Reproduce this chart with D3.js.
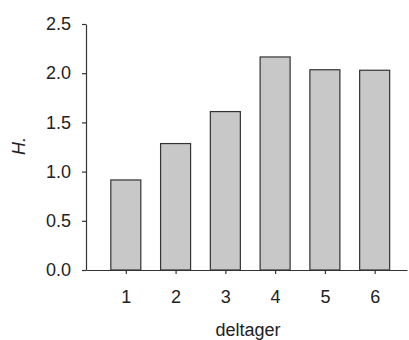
<!DOCTYPE html>
<html>
<head>
<meta charset="UTF-8">
<script src="https://d3js.org/d3.v7.min.js"></script>
<style>
body { margin: 0; background: #fff; }
text { font-family: "Liberation Sans", Arial, sans-serif; fill: #222; }
</style>
</head>
<body>
<svg width="409" height="340"></svg>
<script>
// data
var deltager = [1, 2, 3, 4, 5, 6];
var hValues = [0.915, 1.285, 1.61, 2.165, 2.035, 2.03];
var yTicks = [0, 0.5, 1.0, 1.5, 2.0, 2.5];

var svg = d3.select("svg");

var xScale = d3.scaleLinear().domain([0.2, 6.65]).range([86, 407]);
var yScale = d3.scaleLinear().domain([0, 2.5]).range([270, 24]);
var barW = 30;

// bars
svg.append("g").selectAll("rect").data(deltager)
  .enter().append("rect")
  .attr("x", function(d) { return xScale(d) - barW / 2; })
  .attr("y", function(d, i) { return yScale(hValues[i]); })
  .attr("width", barW)
  .attr("height", function(d, i) { return yScale(0) - yScale(hValues[i]); })
  .style("fill", "#c8c8c9")
  .style("stroke", "#333")
  .style("stroke-width", 1.2);

// y axis
var y_axis = d3.axisLeft(yScale).tickValues(yTicks).tickFormat(d3.format(".1f"))
  .tickSizeInner(4).tickSizeOuter(0).tickPadding(11);
var gy = svg.append("g").attr("transform", "translate(86,0)").call(y_axis);
gy.selectAll("text").style("font-size", "18px");

// x axis
var x_axis = d3.axisBottom(xScale).tickValues(deltager).tickFormat(d3.format("d"))
  .tickSizeInner(4).tickSizeOuter(0).tickPadding(16);
var gx = svg.append("g").attr("transform", "translate(0,270)").call(x_axis);
gx.selectAll("text").style("font-size", "18px");

svg.selectAll(".domain, .tick line").style("stroke", "#333").style("stroke-width", 1.2);

// axis titles
svg.append("text")
  .attr("x", 248).attr("y", 336)
  .attr("text-anchor", "middle")
  .style("font-size", "18px")
  .text("deltager");

svg.append("text")
  .attr("transform", "translate(25,146) rotate(-90)")
  .attr("text-anchor", "middle")
  .style("font-size", "18px")
  .style("font-style", "italic")
  .text("H.");
</script>
</body>
</html>
